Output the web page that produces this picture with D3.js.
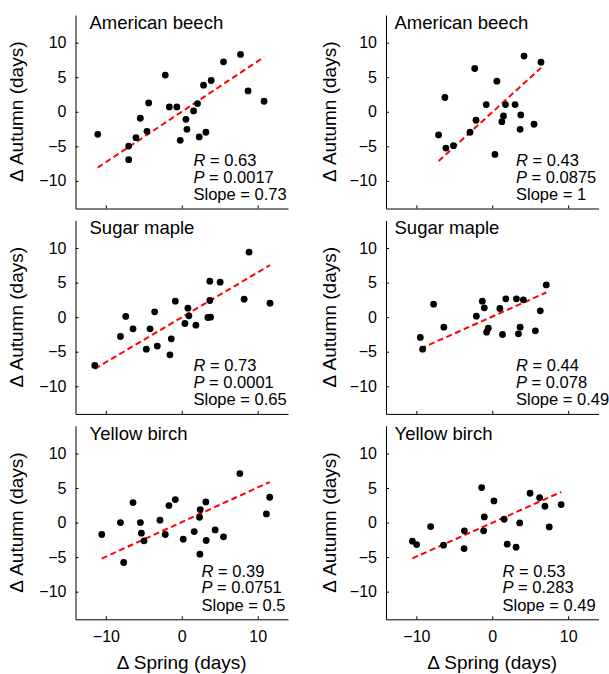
<!DOCTYPE html>
<html>
<head>
<meta charset="utf-8">
<script src="https://cdn.jsdelivr.net/npm/d3@7"></script>
<style>
  html, body { margin: 0; padding: 0; background: #fff; }
  svg { display: block; font-family: "Liberation Sans", Arial, Helvetica, sans-serif; }
</style>
</head>
<body>
<svg id="chart" width="609" height="674"></svg>
<script>
// Species shown in each row
const species = ["American beech", "Sugar maple", "Yellow birch"];

// Axis ticks
const xTicks = [-10, 0, 10];
const yTicks = [-10, -5, 0, 5, 10];

// Left column: Δ spring / Δ autumn (days)
const beechSpringL = [-11.07, -6.99, -6.99, -6.03, -5.46, -4.58, -4.36, -2.17, -1.64, -0.64, -0.20, 0.55, 0.68, 1.56, 2.08, 2.30, 2.87, 3.18, 3.88, 5.50, 7.74, 8.74, 10.85];
const beechAutumnL = [-3.26, -4.96, -6.94, -3.75, -0.94, -2.83, 1.28, 5.30, 0.70, 0.70, -4.13, -1.09, -2.54, 0.12, 1.18, -3.65, 3.84, -2.97, 4.52, 7.23, 8.29, 3.02, 1.52];

const mapleSpringL = [-11.46, -8.08, -7.38, -6.42, -4.67, -4.18, -3.57, -3.22, -1.56, -1.38, -0.85, 0.42, 0.81, 0.94, 1.86, 3.44, 3.79, 3.70, 3.70, 5.06, 8.22, 8.87, 11.63];
const mapleAutumnL = [-6.99, -2.80, 0.10, -1.69, -4.63, -1.69, 0.77, -4.19, -5.45, -3.13, 2.31, -0.92, 1.30, 0.19, -1.16, -0.05, 0.00, 2.41, 5.20, 5.06, 2.60, 9.40, 2.02];

const birchSpringL = [-10.54, -8.08, -7.65, -6.42, -5.45, -5.32, -4.97, -2.87, -2.17, -1.69, -0.85, 0.20, 1.64, 2.39, 2.34, 2.43, 3.18, 3.22, 4.40, 5.50, 7.65, 11.15, 11.59];
const birchAutumnL = [-1.73, 0.00, -5.78, 2.89, 0.00, -1.54, -2.65, 0.34, -1.73, 2.46, 3.33, -2.41, -1.30, -4.58, 0.77, 1.88, 2.99, -2.60, -1.06, -2.07, 7.08, 1.25, 3.66];

// Right column: Δ spring / Δ autumn (days)
const beechSpringR = [-7.07, -6.24, -6.11, -5.11, -2.93, -2.31, -2.14, -0.79, 0.35, 0.61, 1.27, 1.48, 1.75, 3.01, 3.67, 3.76, 4.19, 5.50, 6.42];
const beechAutumnR = [-3.36, 2.06, -5.25, -4.91, -2.97, 6.26, -1.23, 1.04, -6.17, 4.42, -1.43, -0.60, 1.04, 1.04, -2.54, -0.46, 8.05, -1.81, 7.18];

const mapleSpringR = [-9.48, -9.17, -7.73, -6.38, -2.10, -1.31, -1.05, -0.74, -0.52, 1.00, 1.35, 1.79, 3.19, 3.45, 3.67, 4.10, 5.68, 6.33, 7.12];
const mapleAutumnR = [-2.94, -4.63, 1.88, -1.45, 0.14, 2.31, 1.35, -2.17, -1.59, 1.25, -2.51, 2.65, 2.65, -2.41, -1.45, 2.51, -1.98, 0.92, 4.67];

const birchSpringR = [-10.52, -9.96, -8.12, -6.42, -3.67, -3.71, -1.40, -1.05, -1.14, 0.22, 1.57, 1.97, 3.14, 3.62, 4.98, 6.24, 6.94, 7.51, 9.08];
const birchAutumnR = [-2.70, -3.18, -0.58, -3.28, -1.20, -3.76, 5.06, 0.82, -1.20, 3.13, 0.48, -3.13, -3.57, -0.05, 4.24, 3.61, 2.36, -0.63, 2.60];

// Regression statistics, row-major: [left, right] per species
const rLabels = ["0.63", "0.43", "0.73", "0.44", "0.39", "0.53"];
const pLabels = ["0.0017", "0.0875", "0.0001", "0.078", "0.0751", "0.283"];
const slopeLabels = ["0.73", "1", "0.65", "0.49", "0.5", "0.49"];
const slopes = [0.73, 1, 0.65, 0.49, 0.5, 0.49];
const intercepts = [0.0, -0.07, -0.03, 0.08, 0.06, -0.03];

const panelData = [
  [beechSpringL, beechAutumnL], [beechSpringR, beechAutumnR],
  [mapleSpringL, mapleAutumnL], [mapleSpringR, mapleAutumnR],
  [birchSpringL, birchAutumnL], [birchSpringR, birchAutumnR]
];

// Layout
const colLeft = [75.5, 386];
const plotW = 212.5;
const rowTop = [15, 220.4, 425.8];
const plotH = 193.5;
const statsX = [118, 130, 118, 130, 126, 116.5];

const svg = d3.select("#chart");
const FONT_TICK = 16, FONT_TITLE = 18.5, FONT_STATS = 16.5, FONT_AXIS = 19;

panelData.forEach(([xs, ys], i) => {
  const row = Math.floor(i / 2), col = i % 2;
  const x0 = colLeft[col], y0 = rowTop[row];

  const x = d3.scaleLinear().domain([-14, 14]).range([x0, x0 + plotW]);
  const y = d3.scaleLinear().domain([-14, 14]).range([y0 + plotH, y0]);

  const g = svg.append("g");

  // y axis with inward ticks
  const yAxis = g.append("g")
    .attr("transform", `translate(${x0},0)`)
    .call(d3.axisLeft(y).tickValues(yTicks).tickSizeInner(-3).tickSizeOuter(0).tickPadding(9));
  yAxis.select(".domain").attr("stroke", "#000").attr("stroke-width", 1);
  yAxis.selectAll(".tick line").attr("stroke", "#000");
  yAxis.selectAll(".tick text")
    .attr("font-size", FONT_TICK).attr("fill", "#000")
    .attr("font-family", "Liberation Sans, Arial, sans-serif");

  // x axis with inward ticks
  const xAxis = g.append("g")
    .attr("transform", `translate(0,${y0 + plotH})`)
    .call(d3.axisBottom(x).tickValues(xTicks).tickSizeInner(-3).tickSizeOuter(0).tickPadding(11));
  xAxis.select(".domain").attr("stroke", "#000").attr("stroke-width", 1);
  xAxis.selectAll(".tick line").attr("stroke", "#000");
  xAxis.selectAll(".tick text")
    .attr("font-size", FONT_TICK).attr("fill", "#000")
    .attr("font-family", "Liberation Sans, Arial, sans-serif")
    .attr("opacity", row === 2 ? 1 : 0);
  if (row !== 2) xAxis.selectAll(".tick text").remove();

  // y axis title
  g.append("text")
    .attr("transform", `translate(${x0 - (col === 0 ? 53 : 50)},${y(0)}) rotate(-90)`)
    .attr("text-anchor", "middle")
    .attr("font-size", FONT_AXIS)
    .text("\u0394 Autumn (days)");

  // x axis title on bottom row
  if (row === 2) {
    g.append("text")
      .attr("x", x(0)).attr("y", 669)
      .attr("text-anchor", "middle")
      .attr("font-size", FONT_AXIS)
      .text("\u0394 Spring (days)");
  }

  // species title
  g.append("text")
    .attr("x", x0 + (col === 0 ? 14 : 8.5))
    .attr("y", y0 + 14)
    .attr("font-size", FONT_TITLE)
    .text(species[row]);

  // regression line across the observed spring range
  const [xmin, xmax] = d3.extent(xs);
  const fit = v => slopes[i] * v + intercepts[i];
  g.append("line")
    .attr("x1", x(xmin)).attr("y1", y(fit(xmin)))
    .attr("x2", x(xmax)).attr("y2", y(fit(xmax)))
    .attr("stroke", "#ff0000")
    .attr("stroke-width", 2)
    .attr("stroke-dasharray", "6,3.5");

  // observations
  g.append("g").selectAll("circle")
    .data(xs.map((v, k) => [v, ys[k]]))
    .join("circle")
    .attr("cx", d => x(d[0]))
    .attr("cy", d => y(d[1]))
    .attr("r", 3.4)
    .attr("fill", "#000");

  // statistics
  const sx = x0 + statsX[i];
  const stats = g.append("g").attr("font-size", FONT_STATS);
  const rT = stats.append("text").attr("x", sx).attr("y", y0 + 151);
  rT.append("tspan").attr("font-style", "italic").text("R");
  rT.append("tspan").text(" = " + rLabels[i]);
  const pT = stats.append("text").attr("x", sx).attr("y", y0 + 167.5);
  pT.append("tspan").attr("font-style", "italic").text("P");
  pT.append("tspan").text(" = " + pLabels[i]);
  stats.append("text").attr("x", sx).attr("y", y0 + 185)
    .text("Slope = " + slopeLabels[i]);
});
</script>
</body>
</html>
